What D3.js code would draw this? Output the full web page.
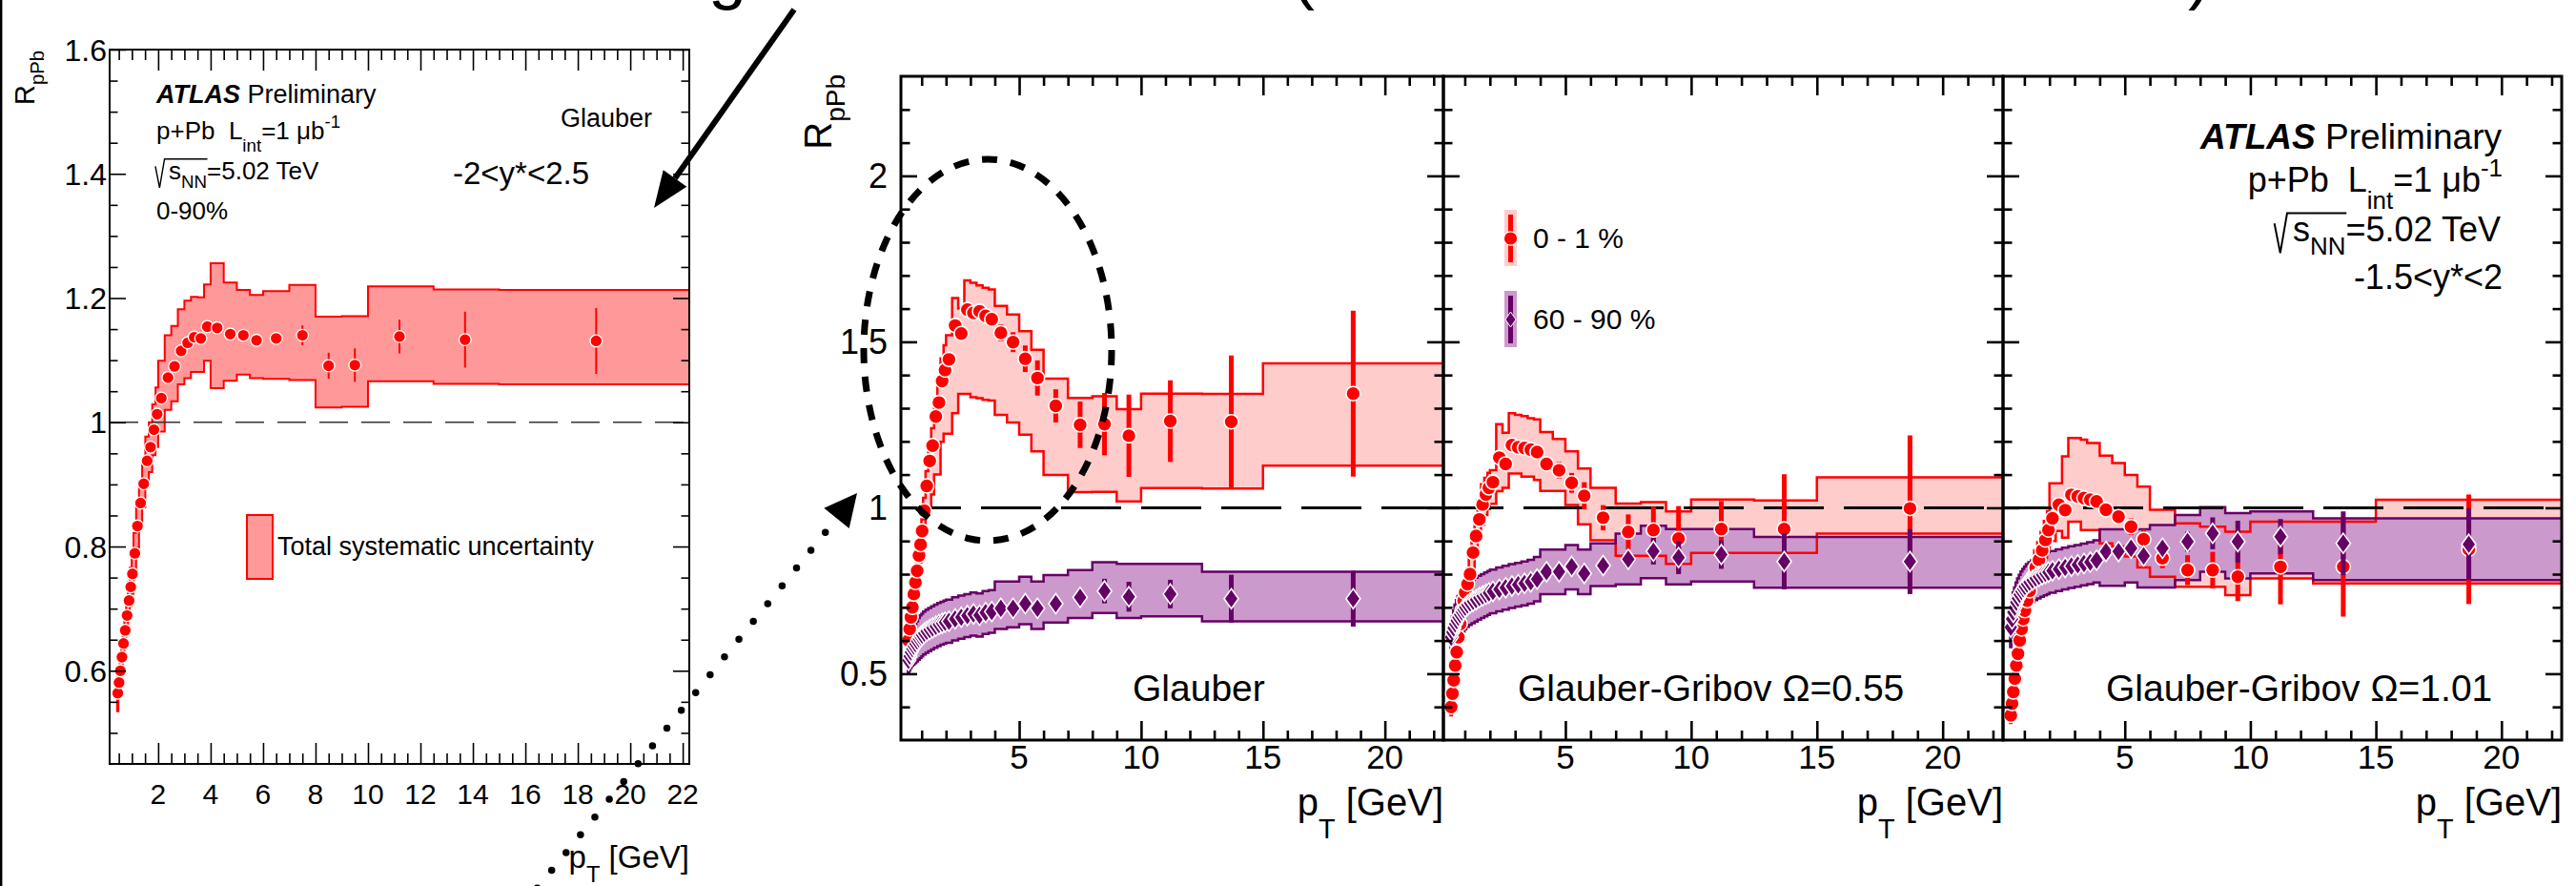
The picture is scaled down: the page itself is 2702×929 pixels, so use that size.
<!DOCTYPE html>
<html><head><meta charset="utf-8">
<script src="https://cdn.jsdelivr.net/npm/d3@7"></script>
<style>
html,body{margin:0;padding:0;background:#fff;}
svg{display:block;font-family:"Liberation Sans",Arial,Helvetica,sans-serif;}
text{white-space:pre;}
</style></head><body>
<svg id="c" width="2702" height="929"></svg>
<script>
// ---- pT binning (GeV) shared by all measurements ----
const ptCenters = [0.46, 0.51, 0.56, 0.62, 0.68, 0.745, 0.815, 0.89, 0.955, 1.02,
  1.11, 1.21, 1.33, 1.45, 1.58, 1.71, 1.84, 1.96, 2.12, 2.375,
  2.625, 2.875, 3.125, 3.375, 3.625, 3.875, 4.25, 4.75, 5.25, 5.75,
  6.5, 7.5, 8.5, 9.5, 11.2, 13.7, 18.7];
const ptEdges = [0.435, 0.485, 0.535, 0.59, 0.65, 0.71, 0.78, 0.85, 0.92, 0.99,
  1.06, 1.16, 1.27, 1.39, 1.51, 1.645, 1.775, 1.9, 2.0, 2.25,
  2.5, 2.75, 3.0, 3.25, 3.5, 3.75, 4.0, 4.5, 5.0, 5.5,
  6.0, 7.0, 8.0, 9.0, 10.0, 12.5, 15.0, 22.5];

// ---- 0-90%, -2<y*<2.5, Glauber ----
const mbR = [0.564, 0.581, 0.600, 0.622, 0.644, 0.665, 0.689, 0.713, 0.735, 0.756,
  0.789, 0.833, 0.870, 0.901, 0.938, 0.960, 0.988, 1.013, 1.039, 1.072,
  1.090, 1.115, 1.128, 1.137, 1.135, 1.154, 1.152, 1.142, 1.140, 1.132,
  1.135, 1.140, 1.091, 1.092, 1.138, 1.133, 1.131];
const mbStat = [0.004, 0.004, 0.004, 0.004, 0.004, 0.004, 0.004, 0.004, 0.004, 0.004,
  0.004, 0.004, 0.004, 0.004, 0.004, 0.004, 0.004, 0.004, 0.004, 0.004,
  0.004, 0.005, 0.005, 0.005, 0.005, 0.005, 0.006, 0.006, 0.007, 0.008,
  0.010, 0.016, 0.021, 0.027, 0.027, 0.045, 0.053];
const mbSysLo = [0.535, 0.556, 0.575, 0.596, 0.617, 0.637, 0.660, 0.683, 0.704, 0.724,
  0.756, 0.798, 0.834, 0.863, 0.899, 0.920, 0.947, 0.960, 0.985, 1.020,
  1.034, 1.061, 1.071, 1.081, 1.081, 1.099, 1.055, 1.067, 1.077, 1.071,
  1.070, 1.068, 1.024, 1.025, 1.066, 1.062, 1.061];
const mbSysHi = [0.590, 0.606, 0.625, 0.648, 0.671, 0.693, 0.718, 0.743, 0.766, 0.788,
  0.822, 0.868, 0.906, 0.939, 0.977, 1.000, 1.029, 1.056, 1.099, 1.140,
  1.155, 1.182, 1.196, 1.202, 1.201, 1.222, 1.256, 1.225, 1.213, 1.205,
  1.211, 1.221, 1.170, 1.171, 1.219, 1.214, 1.213];

// ---- -1.5<y*<2 : Glauber ----
const glCentralR = [0.600, 0.635, 0.670, 0.700, 0.740, 0.775, 0.810, 0.856, 0.889, 0.930,
  0.991, 1.066, 1.141, 1.187, 1.275, 1.317, 1.382, 1.415, 1.447, 1.549,
  1.525, 1.597, 1.587, 1.592, 1.578, 1.568, 1.527, 1.499, 1.449, 1.391,
  1.307, 1.250, 1.252, 1.217, 1.261, 1.259, 1.344];
const glCentralStat = [0.006, 0.006, 0.006, 0.006, 0.006, 0.006, 0.006, 0.006, 0.006, 0.006,
  0.006, 0.006, 0.006, 0.006, 0.006, 0.006, 0.006, 0.006, 0.006, 0.010,
  0.010, 0.012, 0.012, 0.013, 0.015, 0.020, 0.025, 0.030, 0.040, 0.053,
  0.050, 0.070, 0.094, 0.124, 0.123, 0.200, 0.250];
const glCentralLo = [0.560, 0.595, 0.630, 0.660, 0.695, 0.730, 0.760, 0.800, 0.835, 0.870,
  0.930, 0.985, 1.000, 1.040, 1.100, 1.100, 1.199, 1.223, 1.223, 1.285,
  1.343, 1.343, 1.333, 1.330, 1.325, 1.323, 1.280, 1.257, 1.220, 1.170,
  1.099, 1.047, 1.048, 1.019, 1.059, 1.058, 1.127];
const glCentralHi = [0.620, 0.655, 0.690, 0.720, 0.760, 0.800, 0.835, 0.885, 0.920, 0.965,
  1.030, 1.110, 1.190, 1.240, 1.330, 1.380, 1.450, 1.490, 1.520, 1.632,
  1.600, 1.685, 1.678, 1.670, 1.663, 1.658, 1.608, 1.582, 1.532, 1.476,
  1.389, 1.331, 1.336, 1.297, 1.344, 1.343, 1.435];
const glPeriphR = [0.540, 0.553, 0.565, 0.575, 0.583, 0.590, 0.598, 0.605, 0.611, 0.616,
  0.622, 0.628, 0.633, 0.638, 0.643, 0.648, 0.652, 0.655, 0.658, 0.665,
  0.670, 0.675, 0.680, 0.676, 0.684, 0.687, 0.697, 0.697, 0.711, 0.697,
  0.711, 0.730, 0.749, 0.732, 0.740, 0.726, 0.726];
const glPeriphStat = [0.004, 0.004, 0.004, 0.004, 0.004, 0.004, 0.004, 0.004, 0.004, 0.004,
  0.004, 0.004, 0.004, 0.004, 0.004, 0.004, 0.004, 0.004, 0.004, 0.004,
  0.004, 0.004, 0.004, 0.004, 0.004, 0.004, 0.008, 0.008, 0.009, 0.010,
  0.015, 0.024, 0.037, 0.045, 0.043, 0.072, 0.084];
const glPeriphLo = [0.500, 0.510, 0.518, 0.524, 0.528, 0.532, 0.537, 0.542, 0.547, 0.552,
  0.558, 0.563, 0.568, 0.573, 0.578, 0.583, 0.587, 0.590, 0.593, 0.600,
  0.605, 0.610, 0.615, 0.612, 0.620, 0.623, 0.635, 0.640, 0.649, 0.635,
  0.654, 0.668, 0.683, 0.668, 0.673, 0.658, 0.658];
const glPeriphHi = [0.575, 0.594, 0.610, 0.624, 0.636, 0.648, 0.658, 0.668, 0.676, 0.681,
  0.687, 0.693, 0.698, 0.703, 0.708, 0.713, 0.717, 0.720, 0.723, 0.730,
  0.735, 0.740, 0.745, 0.742, 0.749, 0.752, 0.778, 0.778, 0.792, 0.778,
  0.797, 0.812, 0.836, 0.831, 0.831, 0.807, 0.807];

// ---- -1.5<y*<2 : Glauber-Gribov, Omega = 0.55 ----
const gg55CentralR = [0.400, 0.440, 0.480, 0.525, 0.565, 0.610, 0.650, 0.690, 0.720, 0.745,
  0.770, 0.800, 0.865, 0.915, 0.965, 1.010, 1.040, 1.060, 1.077, 1.151,
  1.132, 1.189, 1.182, 1.180, 1.175, 1.168, 1.132, 1.113, 1.075, 1.036,
  0.970, 0.927, 0.933, 0.907, 0.936, 0.936, 0.998];
const gg55CentralStat = [0.005, 0.005, 0.005, 0.005, 0.005, 0.005, 0.005, 0.005, 0.005, 0.005,
  0.005, 0.005, 0.005, 0.005, 0.005, 0.005, 0.005, 0.005, 0.005, 0.008,
  0.008, 0.009, 0.009, 0.010, 0.011, 0.012, 0.020, 0.025, 0.030, 0.041,
  0.038, 0.053, 0.070, 0.098, 0.084, 0.165, 0.220];
const gg55CentralLo = [0.375, 0.413, 0.451, 0.494, 0.531, 0.573, 0.611, 0.649, 0.677, 0.700,
  0.724, 0.752, 0.813, 0.860, 0.907, 0.949, 0.978, 0.996, 1.012, 1.050,
  1.060, 1.103, 1.103, 1.094, 1.094, 1.084, 1.051, 1.051, 1.008, 0.950,
  0.902, 0.855, 0.855, 0.831, 0.864, 0.864, 0.922];
const gg55CentralHi = [0.425, 0.467, 0.509, 0.556, 0.599, 0.647, 0.689, 0.731, 0.763, 0.790,
  0.816, 0.848, 0.917, 0.970, 1.023, 1.071, 1.090, 1.105, 1.113, 1.252,
  1.226, 1.285, 1.280, 1.276, 1.270, 1.266, 1.228, 1.207, 1.170, 1.118,
  1.060, 1.013, 1.017, 0.989, 1.025, 1.022, 1.092];
const gg55PeriphR = [0.610, 0.625, 0.638, 0.650, 0.660, 0.670, 0.678, 0.686, 0.693, 0.700,
  0.707, 0.713, 0.718, 0.723, 0.729, 0.734, 0.739, 0.743, 0.748, 0.754,
  0.759, 0.764, 0.768, 0.772, 0.777, 0.785, 0.807, 0.807, 0.823, 0.802,
  0.826, 0.845, 0.869, 0.850, 0.859, 0.838, 0.838];
const gg55PeriphStat = [0.004, 0.004, 0.004, 0.004, 0.004, 0.004, 0.004, 0.004, 0.004, 0.004,
  0.004, 0.004, 0.004, 0.004, 0.004, 0.004, 0.004, 0.004, 0.004, 0.004,
  0.004, 0.004, 0.004, 0.004, 0.004, 0.004, 0.008, 0.009, 0.010, 0.012,
  0.015, 0.024, 0.040, 0.050, 0.043, 0.084, 0.098];
const gg55PeriphLo = [0.570, 0.575, 0.580, 0.588, 0.596, 0.605, 0.612, 0.620, 0.627, 0.634,
  0.641, 0.647, 0.652, 0.657, 0.663, 0.668, 0.673, 0.677, 0.682, 0.688,
  0.693, 0.698, 0.702, 0.706, 0.711, 0.718, 0.740, 0.740, 0.754, 0.740,
  0.764, 0.769, 0.788, 0.769, 0.778, 0.759, 0.759];
const gg55PeriphHi = [0.650, 0.672, 0.690, 0.708, 0.722, 0.734, 0.744, 0.752, 0.759, 0.766,
  0.773, 0.779, 0.784, 0.789, 0.795, 0.800, 0.805, 0.809, 0.814, 0.820,
  0.825, 0.830, 0.834, 0.838, 0.843, 0.852, 0.874, 0.874, 0.888, 0.874,
  0.893, 0.922, 0.946, 0.936, 0.936, 0.912, 0.912];

// ---- -1.5<y*<2 : Glauber-Gribov, Omega = 1.01 ----
const gg101CentralR = [0.375, 0.410, 0.445, 0.485, 0.525, 0.560, 0.600, 0.635, 0.665, 0.690,
  0.720, 0.750, 0.790, 0.820, 0.843, 0.872, 0.903, 0.933, 0.968, 1.009,
  0.993, 1.039, 1.034, 1.029, 1.024, 1.019, 0.994, 0.973, 0.943, 0.905,
  0.848, 0.812, 0.812, 0.792, 0.822, 0.822, 0.875];
const gg101CentralStat = [0.005, 0.005, 0.005, 0.005, 0.005, 0.005, 0.005, 0.005, 0.005, 0.005,
  0.005, 0.005, 0.005, 0.005, 0.005, 0.005, 0.005, 0.005, 0.005, 0.008,
  0.008, 0.009, 0.009, 0.010, 0.011, 0.012, 0.020, 0.022, 0.025, 0.030,
  0.030, 0.045, 0.055, 0.073, 0.113, 0.150, 0.165];
const gg101CentralLo = [0.352, 0.385, 0.418, 0.456, 0.494, 0.527, 0.564, 0.597, 0.625, 0.649,
  0.677, 0.705, 0.743, 0.771, 0.792, 0.820, 0.849, 0.877, 0.900, 0.930,
  0.910, 0.958, 0.958, 0.933, 0.933, 0.933, 0.893, 0.883, 0.853, 0.820,
  0.792, 0.762, 0.762, 0.737, 0.787, 0.772, 0.772];
const gg101CentralHi = [0.400, 0.437, 0.474, 0.516, 0.558, 0.595, 0.638, 0.675, 0.707, 0.735,
  0.765, 0.797, 0.840, 0.872, 0.896, 0.927, 0.960, 0.990, 1.074, 1.074,
  1.155, 1.210, 1.210, 1.205, 1.195, 1.195, 1.157, 1.135, 1.099, 1.064,
  0.994, 0.953, 0.943, 0.928, 0.958, 0.958, 1.024];
const gg101PeriphR = [0.640, 0.665, 0.685, 0.700, 0.715, 0.727, 0.738, 0.748, 0.756, 0.763,
  0.770, 0.776, 0.782, 0.788, 0.793, 0.798, 0.802, 0.806, 0.810, 0.815,
  0.820, 0.824, 0.828, 0.832, 0.836, 0.842, 0.868, 0.868, 0.878, 0.855,
  0.878, 0.898, 0.923, 0.898, 0.913, 0.893, 0.890];
const gg101PeriphStat = [0.004, 0.004, 0.004, 0.004, 0.004, 0.004, 0.004, 0.004, 0.004, 0.004,
  0.004, 0.004, 0.004, 0.004, 0.004, 0.004, 0.004, 0.004, 0.004, 0.004,
  0.004, 0.004, 0.004, 0.004, 0.004, 0.004, 0.008, 0.009, 0.010, 0.012,
  0.016, 0.030, 0.048, 0.063, 0.053, 0.096, 0.108];
const gg101PeriphLo = [0.580, 0.603, 0.622, 0.636, 0.650, 0.662, 0.672, 0.682, 0.690, 0.697,
  0.704, 0.710, 0.716, 0.722, 0.727, 0.732, 0.736, 0.740, 0.744, 0.749,
  0.754, 0.758, 0.762, 0.766, 0.770, 0.775, 0.765, 0.765, 0.775, 0.760,
  0.760, 0.782, 0.807, 0.787, 0.802, 0.782, 0.782];
const gg101PeriphHi = [0.700, 0.725, 0.745, 0.760, 0.775, 0.787, 0.798, 0.808, 0.816, 0.823,
  0.830, 0.836, 0.842, 0.848, 0.853, 0.858, 0.862, 0.866, 0.870, 0.875,
  0.880, 0.884, 0.888, 0.892, 0.896, 0.902, 0.935, 0.935, 0.945, 0.935,
  0.948, 0.978, 1.002, 0.984, 0.989, 0.968, 0.968];

// ---- axis ticks and labels ----
const mainXTicks = [5, 10, 15, 20];
const mainYTicks = [0.5, 1, 1.5, 2];
const smallXTicks = [2, 4, 6, 8, 10, 12, 14, 16, 18, 20, 22];
const smallYTicks = [0.6, 0.8, 1, 1.2, 1.4, 1.6];
const modelLabels = ['Glauber', 'Glauber-Gribov \u03A9=0.55', 'Glauber-Gribov \u03A9=1.01'];
const centralityLabels = ['0 - 1 %', '60 - 90 %'];
const titleGlyphs = [{t: 'g', x: 743}, {t: '(', x: 1355}, {t: ')', x: 2295}];

// ---- colours ----
const RED = '#ff0000', PINK = '#ffcccc', SALMON = '#ff9999', PURPLE = '#660066', LILAC = '#cc99cc';

const svg = d3.select('#c');
svg.append('rect').attr('width', 2702).attr('height', 929).attr('fill', '#fff');

// rich text: plain / subscript / superscript / bold-italic runs
function rich(g, x, y, parts, size, anchor) {
  const t = g.append('text').attr('x', x).attr('y', y)
    .attr('font-size', size).attr('text-anchor', anchor || 'start').attr('fill', '#000');
  let cur = 0;
  parts.forEach(p => {
    const o = typeof p === 'string' ? {t: p} : p;
    const shift = (o.shift || 0) * size;
    const ts = t.append('tspan').text(o.t).attr('dy', shift - cur);
    cur = shift;
    if (o.scale) ts.attr('font-size', size * o.scale);
    if (o.bi) ts.attr('font-weight', 'bold').attr('font-style', 'italic');
  });
  return t;
}
// sqrt(s_NN)=5.02 TeV with a drawn radical
function sqrtLine(g, x, y, size, anchor, subShift) {
  const start = anchor === 'end' ? x : x + 0.5 * size;
  const t = rich(g, start, y, ['s', {t: 'NN', shift: subShift, scale: 0.72}, {t: '=5.02 TeV'}], size, anchor);
  const n = t.node();
  const sx = n.getStartPositionOfChar(0).x;
  const ex = n.getEndPositionOfChar(2).x;
  g.append('path')
    .attr('d', `M${sx - 0.54 * size},${y - 0.52 * size} L${sx - 0.37 * size},${y + 0.34 * size} L${sx - 0.17 * size},${y - 0.82 * size} L${ex + 0.02 * size},${y - 0.82 * size}`)
    .attr('fill', 'none').attr('stroke', '#000').attr('stroke-width', size * 0.055);
}
function tickSet(g, axisFn, scale, values, len, transform, sw) {
  const a = axisFn(scale).tickValues(values).tickSize(-len).tickFormat(() => '');
  const s = g.append('g').attr('transform', transform).call(a);
  s.select('.domain').remove();
  s.selectAll('text').remove();
  s.selectAll('line').attr('stroke', '#000').attr('stroke-width', sw);
}
function minorOf(lo, hi, step, majors) {
  return d3.range(lo, hi + 1e-9, step).map(v => +v.toFixed(3)).filter(v => !majors.some(m => Math.abs(m - v) < 1e-6));
}
function bandPath(g, xs, ys, lo, hi, fill, stroke, sw, fillOnly) {
  const pts = [];
  ptCenters.forEach((c, i) => {
    pts.push({x: ptEdges[i], lo: lo[i], hi: hi[i]});
    pts.push({x: ptEdges[i + 1], lo: lo[i], hi: hi[i]});
  });
  const area = d3.area().x(d => xs(d.x)).y0(d => ys(d.lo)).y1(d => ys(d.hi));
  const p = g.append('path').attr('d', area(pts));
  if (fillOnly) p.attr('fill', fill).attr('stroke', 'none');
  else p.attr('fill', 'none').attr('stroke', stroke).attr('stroke-width', sw).attr('stroke-linejoin', 'miter');
}
function statBars(g, xs, ys, r, stat, color, w) {
  g.append('g').selectAll('line').data(ptCenters).join('line')
    .attr('x1', d => xs(d)).attr('x2', d => xs(d))
    .attr('y1', (d, i) => ys(r[i] - stat[i])).attr('y2', (d, i) => ys(r[i] + stat[i]))
    .attr('stroke', color).attr('stroke-width', w);
}
function circles(g, xs, ys, r, color, rad, sw) {
  g.append('g').selectAll('circle').data(ptCenters).join('circle')
    .attr('cx', d => xs(d)).attr('cy', (d, i) => ys(r[i])).attr('r', rad)
    .attr('fill', color).attr('stroke', '#fff').attr('stroke-width', sw);
}
function diamondD(x, y, a, b) { return `M${x},${y - b} L${x + a},${y} L${x},${y + b} L${x - a},${y} Z`; }
function diamonds(g, xs, ys, r, color, a, b, sw) {
  g.append('g').selectAll('path').data(ptCenters).join('path')
    .attr('d', (d, i) => diamondD(xs(d), ys(r[i]), a, b))
    .attr('fill', color).attr('stroke', '#fff').attr('stroke-width', sw);
}

// ================= small panel: 0-90% =================
(function () {
  const f = {x0: 115, x1: 723, y0: 52, y1: 801};
  const xs = d3.scaleLinear().domain([0.15, 22.25]).range([f.x0, f.x1]);
  const ys = d3.scaleLinear().domain([0.45, 1.6]).range([f.y1, f.y0]);
  const g = svg.append('g');
  g.append('clipPath').attr('id', 'clipS').append('rect')
    .attr('x', f.x0).attr('y', f.y0).attr('width', f.x1 - f.x0).attr('height', f.y1 - f.y0);
  const c = g.append('g').attr('clip-path', 'url(#clipS)');
  bandPath(c, xs, ys, mbSysLo, mbSysHi, SALMON, RED, 2, true);
  bandPath(c, xs, ys, mbSysLo, mbSysHi, SALMON, RED, 2, false);
  c.append('line').attr('x1', f.x0).attr('x2', f.x1).attr('y1', ys(1)).attr('y2', ys(1))
    .attr('stroke', '#333').attr('stroke-width', 1.6).attr('stroke-dasharray', '30 14');
  statBars(c, xs, ys, mbR, mbStat, RED, 2);
  circles(g, xs, ys, mbR, RED, 6.3, 1.3);

  // frame + ticks
  const sw = 1.6;
  tickSet(g, d3.axisBottom, xs, smallXTicks, 22, `translate(0,${f.y1})`, sw);
  tickSet(g, d3.axisBottom, xs, minorOf(0.5, 22, 0.5, smallXTicks), 11, `translate(0,${f.y1})`, sw);
  tickSet(g, d3.axisTop, xs, smallXTicks, 22, `translate(0,${f.y0})`, sw);
  tickSet(g, d3.axisTop, xs, minorOf(0.5, 22, 0.5, smallXTicks), 11, `translate(0,${f.y0})`, sw);
  tickSet(g, d3.axisLeft, ys, smallYTicks, 17, `translate(${f.x0},0)`, sw);
  tickSet(g, d3.axisLeft, ys, minorOf(0.5, 1.55, 0.05, smallYTicks), 8.5, `translate(${f.x0},0)`, sw);
  tickSet(g, d3.axisRight, ys, smallYTicks, 17, `translate(${f.x1},0)`, sw);
  tickSet(g, d3.axisRight, ys, minorOf(0.5, 1.55, 0.05, smallYTicks), 8.5, `translate(${f.x1},0)`, sw);
  g.append('rect').attr('x', f.x0).attr('y', f.y0).attr('width', f.x1 - f.x0).attr('height', f.y1 - f.y0)
    .attr('fill', 'none').attr('stroke', '#000').attr('stroke-width', 2);

  g.append('g').selectAll('text').data(smallYTicks).join('text')
    .attr('x', f.x0 - 3).attr('y', d => ys(d)).attr('dy', '0.36em').attr('text-anchor', 'end')
    .attr('font-size', 32).text(d => String(d));
  g.append('g').selectAll('text').data(smallXTicks).join('text')
    .attr('x', d => xs(d)).attr('y', 843).attr('text-anchor', 'middle')
    .attr('font-size', 30).text(d => String(d));

  rich(g, 723, 910, ['p', {t: 'T', shift: 0.45, scale: 0.72}, {t: ' [GeV]'}], 33, 'end');
  const yt = g.append('g').attr('transform', 'translate(36,53) rotate(-90)');
  rich(yt, 0, 0, ['R', {t: 'pPb', shift: 0.35, scale: 0.7}], 29, 'end');

  rich(g, 164, 108, [{t: 'ATLAS', bi: true}, ' Preliminary'], 27);
  rich(g, 164, 146, ['p+Pb  L', {t: 'int', shift: 0.5, scale: 0.72}, {t: '=1 \u03BCb'}, {t: '-1', shift: -0.48, scale: 0.72}], 26);
  sqrtLine(g, 164, 188, 26, 'start', 0.35);
  rich(g, 164, 230, ['0-90%'], 26);
  rich(g, 588, 133, ['Glauber'], 27);
  rich(g, 475, 193, ['-2<y*<2.5'], 33);

  g.append('rect').attr('x', 259).attr('y', 540).attr('width', 27).attr('height', 67)
    .attr('fill', SALMON).attr('stroke', RED).attr('stroke-width', 2);
  rich(g, 291, 582, ['Total systematic uncertainty'], 27);
})();

// ================= three model panels, -1.5<y*<2 =================
const yMain = d3.scaleLinear().domain([0.3, 2.3]).range([776, 80]);
const panelFrames = [[945, 1514], [1514, 2101], [2101, 2687]];
const panelLabelX = [1188, 1592, 2209];
const panelSeries = [
  [[glCentralR, glCentralStat, glCentralLo, glCentralHi], [glPeriphR, glPeriphStat, glPeriphLo, glPeriphHi]],
  [[gg55CentralR, gg55CentralStat, gg55CentralLo, gg55CentralHi], [gg55PeriphR, gg55PeriphStat, gg55PeriphLo, gg55PeriphHi]],
  [[gg101CentralR, gg101CentralStat, gg101CentralLo, gg101CentralHi], [gg101PeriphR, gg101PeriphStat, gg101PeriphLo, gg101PeriphHi]]
];

panelFrames.forEach((fr, pi) => {
  const f = {x0: fr[0], x1: fr[1], y0: 80, y1: 776};
  const xs = d3.scaleLinear().domain([0.15, 22.4]).range([f.x0, f.x1]);
  const ys = yMain;
  const g = svg.append('g');
  const cid = 'clipP' + pi;
  g.append('clipPath').attr('id', cid).append('rect')
    .attr('x', f.x0).attr('y', f.y0).attr('width', f.x1 - f.x0).attr('height', f.y1 - f.y0);
  const c = g.append('g').attr('clip-path', `url(#${cid})`);
  const [cen, per] = panelSeries[pi];
  bandPath(c, xs, ys, cen[2], cen[3], PINK, RED, 2.5, true);
  bandPath(c, xs, ys, per[2], per[3], LILAC, PURPLE, 2.5, true);
  bandPath(c, xs, ys, cen[2], cen[3], PINK, RED, 2.5, false);
  bandPath(c, xs, ys, per[2], per[3], LILAC, PURPLE, 2.5, false);
  c.append('line').attr('x1', f.x0).attr('x2', f.x1).attr('y1', ys(1)).attr('y2', ys(1))
    .attr('stroke', '#000').attr('stroke-width', 3).attr('stroke-dasharray', '63 21');
  statBars(c, xs, ys, cen[0], cen[1], RED, 5);
  circles(c, xs, ys, cen[0], RED, 7.5, 1.6);
  statBars(c, xs, ys, per[0], per[1], PURPLE, 5);
  diamonds(c, xs, ys, per[0], PURPLE, 7.5, 10.5, 1.6);

  const sw = 2.6;
  const xMinor = minorOf(1, 22, 1, mainXTicks);
  const yMinor = minorOf(0.4, 2.2, 0.1, mainYTicks);
  tickSet(g, d3.axisBottom, xs, mainXTicks, 20, `translate(0,${f.y1})`, sw);
  tickSet(g, d3.axisBottom, xs, xMinor, 10, `translate(0,${f.y1})`, sw);
  tickSet(g, d3.axisTop, xs, mainXTicks, 20, `translate(0,${f.y0})`, sw);
  tickSet(g, d3.axisTop, xs, xMinor, 10, `translate(0,${f.y0})`, sw);
  tickSet(g, d3.axisLeft, ys, mainYTicks, 17, `translate(${f.x0},0)`, sw);
  tickSet(g, d3.axisLeft, ys, yMinor, 9.5, `translate(${f.x0},0)`, sw);
  tickSet(g, d3.axisRight, ys, mainYTicks, 17, `translate(${f.x1},0)`, sw);
  tickSet(g, d3.axisRight, ys, yMinor, 9.5, `translate(${f.x1},0)`, sw);
  g.append('rect').attr('x', f.x0).attr('y', f.y0).attr('width', f.x1 - f.x0).attr('height', f.y1 - f.y0)
    .attr('fill', 'none').attr('stroke', '#000').attr('stroke-width', 3);

  g.append('g').selectAll('text').data(mainXTicks).join('text')
    .attr('x', d => xs(d)).attr('y', 806).attr('text-anchor', 'middle')
    .attr('font-size', 35).text(d => String(d));
  rich(g, f.x1, 855, ['p', {t: 'T', shift: 0.6, scale: 0.72}, {t: ' [GeV]'}], 40, 'end');
  rich(g, panelLabelX[pi], 735, [modelLabels[pi]], 39);

  if (pi === 0) {
    g.append('g').selectAll('text').data(mainYTicks).join('text')
      .attr('x', 931).attr('y', d => ys(d)).attr('dy', '0.36em').attr('text-anchor', 'end')
      .attr('font-size', 36).text(d => String(d));
    const yt = g.append('g').attr('transform', 'translate(872,78) rotate(-90)');
    rich(yt, 0, 0, ['R', {t: 'pPb', shift: 0.35, scale: 0.7}], 40, 'end');
  }
  if (pi === 1) {
    // legend
    const lg = g.append('g');
    const ly = [250, 335];
    const fills = [PINK, LILAC], cols = [RED, PURPLE];
    ly.forEach((yy, k) => {
      lg.append('rect').attr('x', 1578).attr('y', yy - 30).attr('width', 13).attr('height', 59).attr('fill', fills[k]);
      lg.append('line').attr('x1', 1584.5).attr('x2', 1584.5).attr('y1', yy - 25).attr('y2', yy + 25)
        .attr('stroke', cols[k]).attr('stroke-width', 5);
      if (k === 0) lg.append('circle').attr('cx', 1584.5).attr('cy', yy).attr('r', 7.2).attr('fill', RED).attr('stroke', '#fff').attr('stroke-width', 1.2);
      else lg.append('path').attr('d', diamondD(1584.5, yy, 5.5, 8)).attr('fill', PURPLE).attr('stroke', '#fff').attr('stroke-width', 1);
      rich(lg, 1608, yy + 10, [centralityLabels[k]], 30);
    });
  }
  if (pi === 2) {
    rich(g, 2624, 156, [{t: 'ATLAS', bi: true}, ' Preliminary'], 37, 'end');
    rich(g, 2625, 201, ['p+Pb  L', {t: 'int', shift: 0.5, scale: 0.72}, {t: '=1 \u03BCb'}, {t: '-1', shift: -0.44, scale: 0.72}], 36, 'end');
    sqrtLine(g, 2623, 253, 36, 'end', 0.38);
    rich(g, 2625, 303, ['-1.5<y*<2'], 36, 'end');
  }
});

// ================= annotations =================
const ann = svg.append('g');
// slide edge
ann.append('line').attr('x1', 1.2).attr('x2', 1.2).attr('y1', 0).attr('y2', 929).attr('stroke', '#000').attr('stroke-width', 2.4);
// heading glyphs clipped by the top edge
titleGlyphs.forEach(d => ann.append('text').attr('x', d.x).attr('y', -4).attr('font-size', 72).text(d.t));
// dashed ellipse around the Cronin peak
ann.append('ellipse').attr('cx', 1036).attr('cy', 367).attr('rx', 130).attr('ry', 200)
  .attr('fill', 'none').attr('stroke', '#000').attr('stroke-width', 7).attr('stroke-dasharray', '16 14');
// solid arrow into the small panel
ann.append('line').attr('x1', 833).attr('y1', 10).attr('x2', 708).attr('y2', 187)
  .attr('stroke', '#000').attr('stroke-width', 6);
ann.append('path').attr('d', 'M686,218 L720.3,195.7 L695.7,178.3 Z').attr('fill', '#000');
// dotted arrow towards the model panels
ann.append('line').attr('x1', 865.7).attr('y1', 558.3).attr('x2', 550).attr('y2', 948)
  .attr('stroke', '#000').attr('stroke-width', 7.5).attr('stroke-linecap', 'round').attr('stroke-dasharray', '0 24');
ann.append('path').attr('d', 'M899,517 L864.3,532.7 L890.7,554 Z').attr('fill', '#000');
</script>
</body></html>
